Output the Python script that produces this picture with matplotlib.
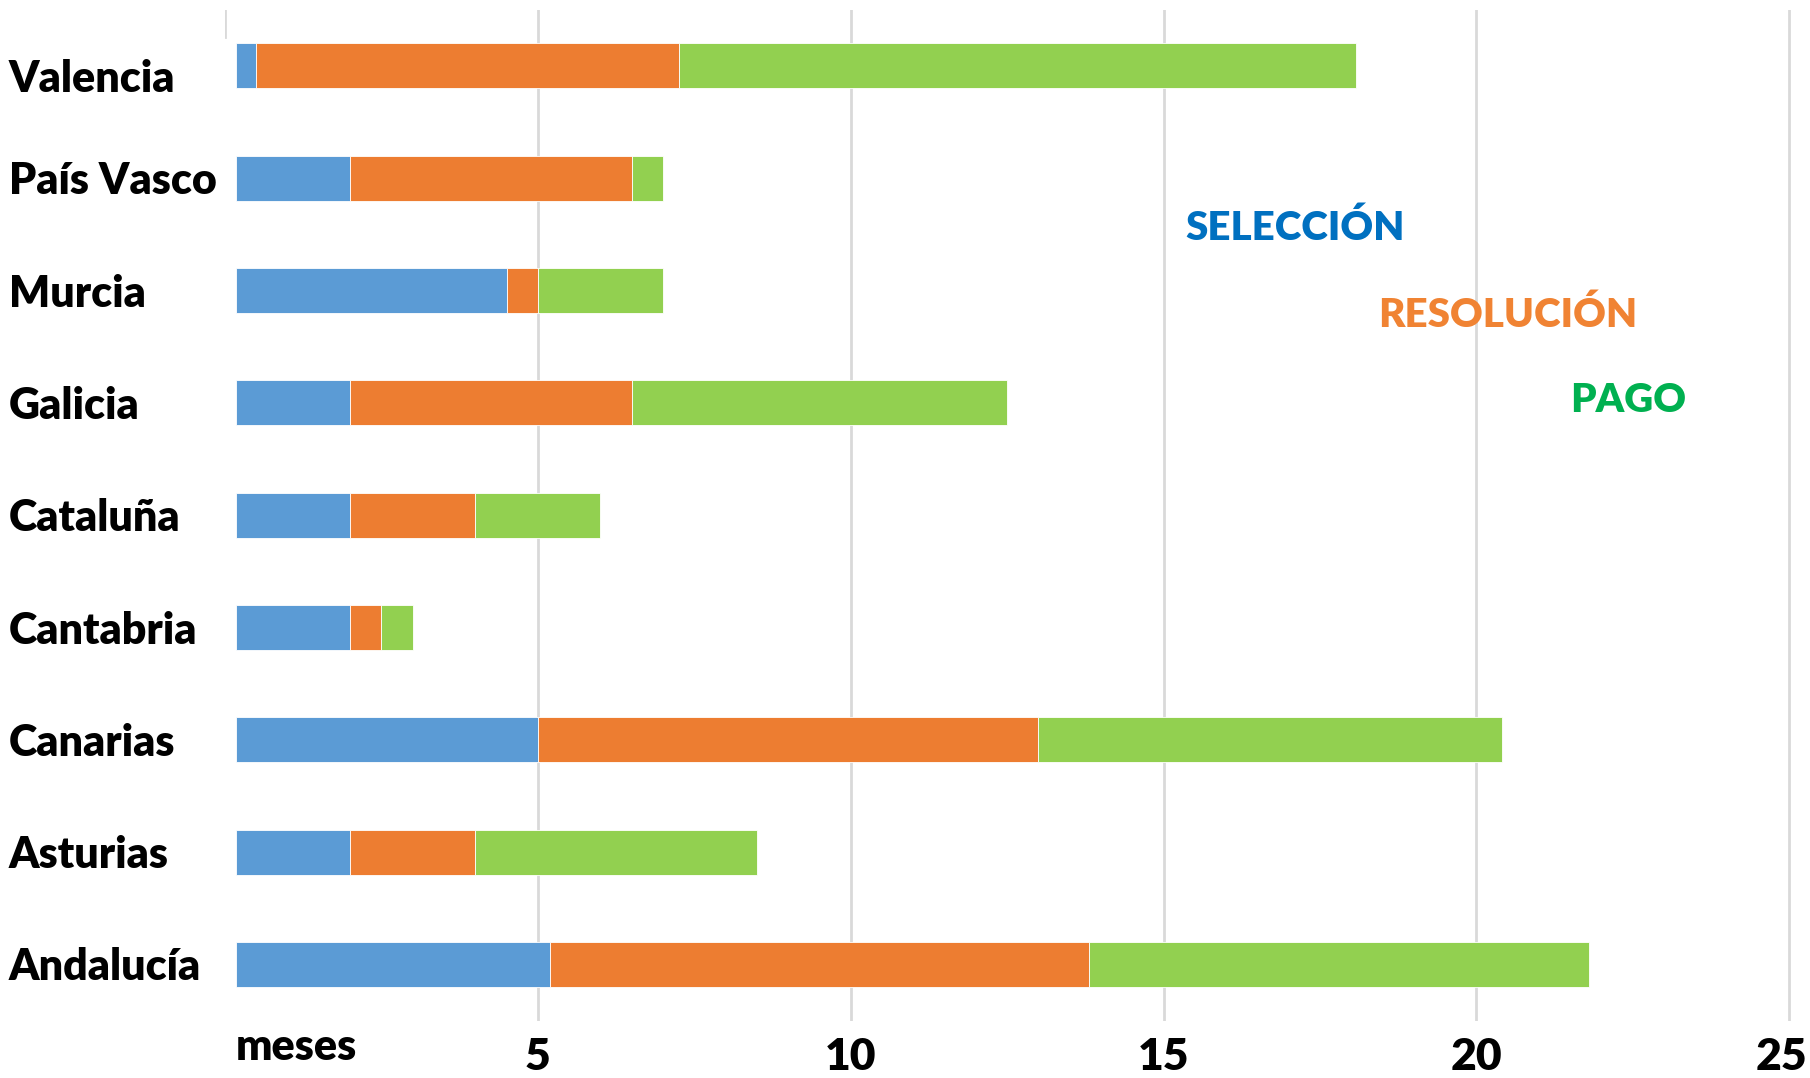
import matplotlib.pyplot as plt
import matplotlib.transforms as mtransforms
import numpy as np

# datos (meses)
regiones = ['Valencia', 'País Vasco', 'Murcia', 'Galicia', 'Cataluña',
            'Cantabria', 'Canarias', 'Asturias', 'Andalucía']
inicio = [0.18, 0.18, 0.18, 0.18, 0.18, 0.18, 0.18, 0.18, 0.18]
seleccion = [0.32, 1.82, 4.32, 1.82, 1.82, 1.82, 4.82, 1.82, 5.02]
resolucion = [6.75, 4.5, 0.5, 4.5, 2.0, 0.5, 8.0, 2.0, 8.6]
pago = [10.83, 0.5, 2.0, 6.0, 2.0, 0.5, 7.4, 4.5, 8.0]
ticks = [5, 10, 15, 20, 25]

azul = '#5B9BD5'
naranja = '#ED7D31'
verde = '#92D050'

plt.rcParams['font.family'] = ['Lato', 'DejaVu Sans']
plt.rcParams['font.weight'] = 'bold'

W, H = 1810, 1078
fig = plt.figure(figsize=(W / 100, H / 100), dpi=100)
ax = fig.add_axes([225 / W, 1 - 1020.6 / H, 1 - 225 / W, 1011 / H])

y = np.arange(len(regiones))
s1 = np.array(inicio)
s2 = s1 + np.array(seleccion)
s3 = s2 + np.array(resolucion)

kw = dict(height=0.40, edgecolor='white', linewidth=0.6, zorder=3)
ax.barh(y, seleccion, left=s1, color=azul, **kw)
ax.barh(y, resolucion, left=s2, color=naranja, **kw)
ax.barh(y, pago, left=s3, color=verde, **kw)

ax.set_xlim(0, 25.33)
ax.set_ylim(len(regiones) - 0.5, -0.5)

for t in ticks:
    ax.axvline(t, color='#D9D9D9', lw=2, zorder=1)
ax.axvline(0, ymin=0.973, ymax=1.0, color='#D9D9D9', lw=2, zorder=1)

ax.set_xticks(ticks)
ax.set_xticklabels([str(t) for t in ticks], fontsize=32, fontweight='heavy')
ax.tick_params(axis='x', length=0, pad=12)
# el 25 queda pegado al borde
ult = ax.get_xticklabels()[-1]
ult.set_transform(ult.get_transform() +
                  mtransforms.ScaledTranslation(-8 / 100, 0, fig.dpi_scale_trans))
ax.set_yticks([])
for s in ax.spines.values():
    s.set_visible(False)

# etiquetas de regiones
tr = ax.get_yaxis_transform()
bajar = [0.12, 0.03, 0.03, 0.03, 0.03, 0.03, 0.03, 0.03, 0.02]
for i, r in enumerate(regiones):
    ax.text(-216 / (W - 225), i + bajar[i], r, transform=tr, ha='left',
            va='center', fontsize=31, fontweight='heavy', color='black')

fig.text(236 / W, 1 - 1047 / H, 'meses', ha='left', va='center',
         fontsize=31, fontweight='heavy')

# leyenda a mano
fig.text(1185 / W, 1 - 240 / H, 'SELECCIÓN', color='#0070C0', fontsize=29,
         fontweight='heavy', va='baseline')
fig.text(1378 / W, 1 - 327 / H, 'RESOLUCIÓN', color='#F08333', fontsize=29,
         fontweight='heavy', va='baseline')
fig.text(1570 / W, 1 - 412 / H, 'PAGO', color='#00B050', fontsize=29,
         fontweight='heavy', va='baseline')

fig.savefig('out.png', dpi=100)
